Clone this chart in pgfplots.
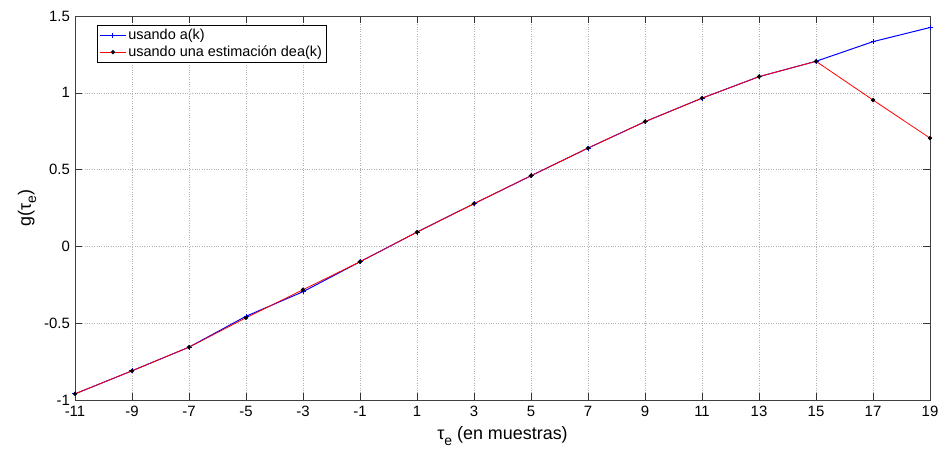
\documentclass[border=0pt]{standalone}
\usepackage{pgfplots}
\pgfplotsset{compat=1.18}
\usepackage{fontspec}
\setmainfont{Liberation Sans}
\newcommand{\tsub}{τ\raisebox{-0.55ex}{\fontsize{14}{14}\selectfont e}}
\begin{document}
\fontsize{15}{17}\selectfont
\begin{tikzpicture}
\begin{axis}[
    name=ax,
    scale only axis,
    width=855bp, height=384bp,
    xmin=-11, xmax=19, ymin=-1, ymax=1.5,
    xtick={-11,-9,...,19},
    ytick={-1,-0.5,0,0.5,1,1.5},
    grid=major,
    grid style={dotted, gray!60, line width=0.5pt},
    tick align=inside,
    major tick length=7bp,
    axis line style={gray!50!black},
    every tick/.style={gray!40!black},
    /pgf/number format/assume math mode=true,
    tick label style={font=\fontsize{15}{17}\selectfont},
    xticklabel style={yshift=-1bp},
    xlabel={\tsub\ (en muestras)},
    ylabel={g(\tsub)},
    label style={font=\fontsize{18}{20}\selectfont},
    xlabel style={at={(axis description cs:0.5,-0.094)}, anchor=center},
    ylabel style={at={(axis description cs:-0.056,0.5)}, anchor=center},
    legend style={at={(0.026,0.977)}, anchor=north west, draw=black,
        fill=white, font=\fontsize{14.5}{16}\selectfont, inner sep=2bp,
        row sep=0bp},
    legend cell align=left,
    legend image code/.code={\draw[mark repeat=2,mark phase=2]
        plot coordinates {(0bp,0bp) (13bp,0bp) (26bp,0bp)};},
]
\addplot[blue, line width=1pt, mark=+, mark size=2.5bp, mark options={blue}]
coordinates {(-11,-0.96) (-9,-0.81) (-7,-0.656) (-5,-0.455) (-3,-0.295) (-1,-0.10)
 (1,0.093) (3,0.278) (5,0.46) (7,0.64) (9,0.812) (11,0.965) (13,1.105)
 (15,1.205) (17,1.333) (19,1.425)};
\addlegendentry{usando a(k)}
\addplot[red, line width=0.8pt, mark=*, mark size=1.7bp, mark options={black, fill=black}]
coordinates {(-11,-0.96) (-9,-0.81) (-7,-0.656) (-5,-0.465) (-3,-0.282) (-1,-0.10)
 (1,0.093) (3,0.278) (5,0.46) (7,0.64) (9,0.812) (11,0.965) (13,1.105)
 (15,1.205) (17,0.953) (19,0.705)};
\addlegendentry{usando una estimación dea(k)}
\end{axis}
\pgfresetboundingbox
\path ([shift={(-75bp,-50bp)}]ax.south west) rectangle ([shift={(12bp,16bp)}]ax.north east);
\end{tikzpicture}
\end{document}
